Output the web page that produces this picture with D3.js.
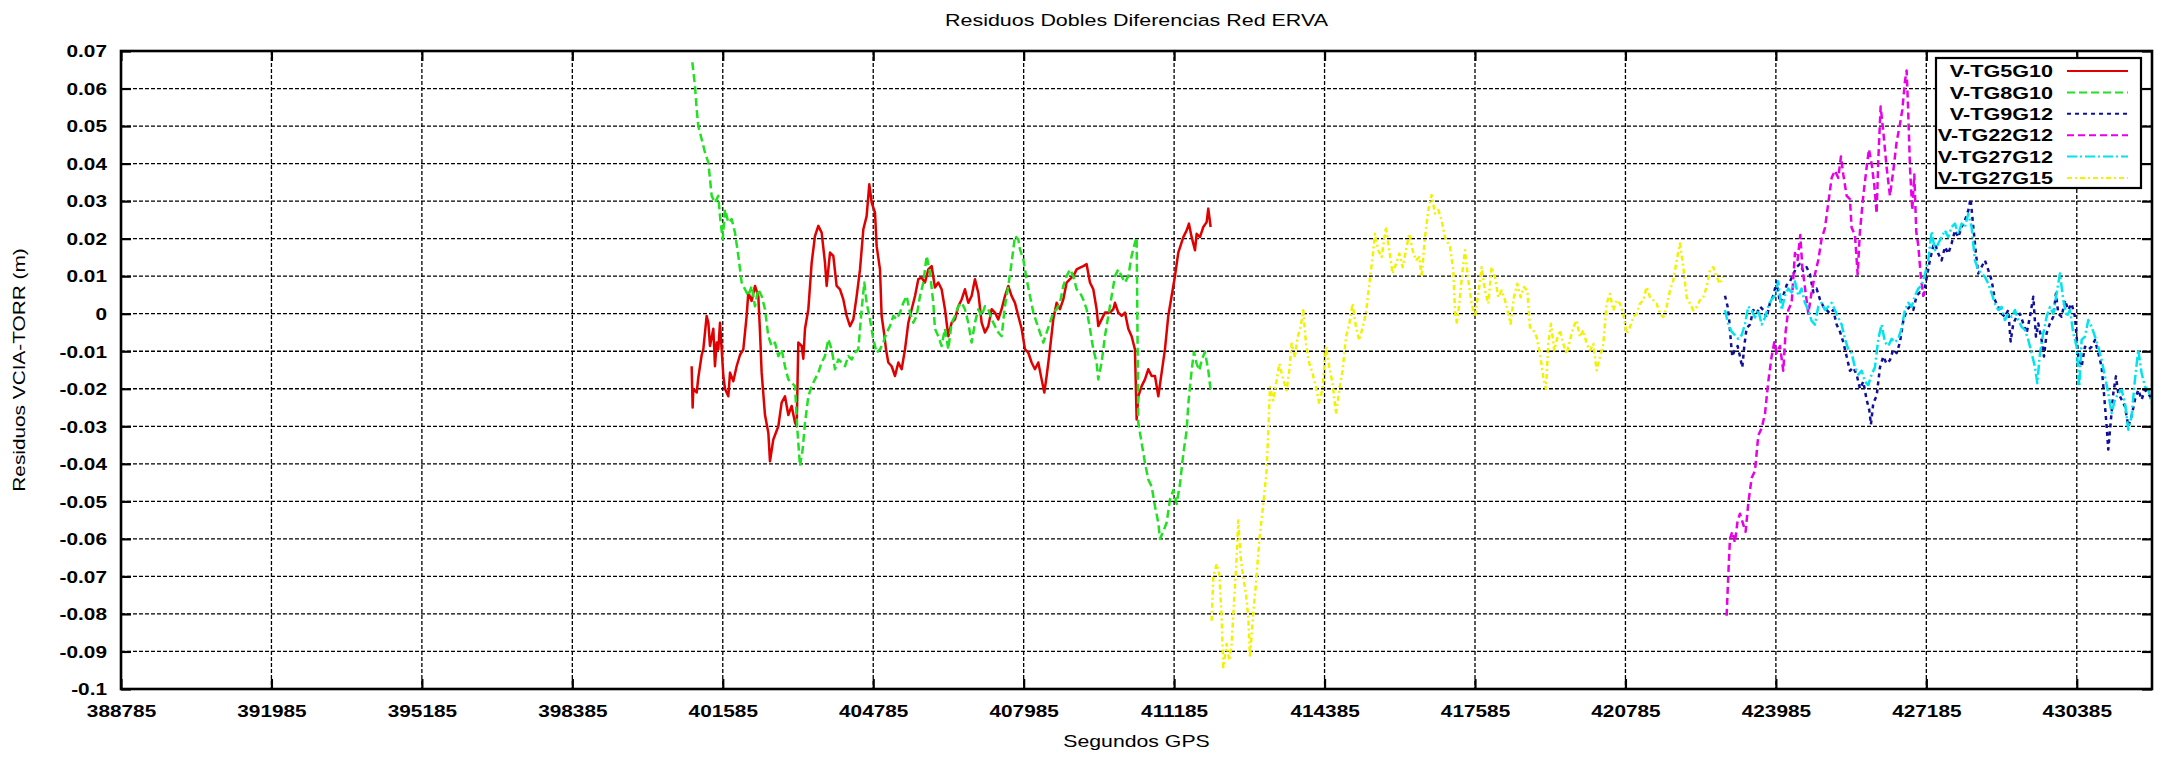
<!DOCTYPE html>
<html>
<head>
<meta charset="utf-8">
<script src="https://cdn.jsdelivr.net/npm/d3@7"></script>
<style>
  body { margin: 0; background: #fff; }
  text { font-family: "Liberation Sans", Arial, sans-serif; fill: #000; }
</style>
</head>
<body>
<div id="chart"></div>
<script>
// Data (GPS seconds, residual in m)
const xTicks = [388785, 391985, 395185, 398385, 401585, 404785, 407985, 411185, 414385, 417585, 420785, 423985, 427185, 430385];
const yTicks = [0.07, 0.06, 0.05, 0.04, 0.03, 0.02, 0.01, 0, -0.01, -0.02, -0.03, -0.04, -0.05, -0.06, -0.07, -0.08, -0.09, -0.1];
const seriesNames = ['V-TG5G10', 'V-TG8G10', 'V-TG9G12', 'V-TG22G12', 'V-TG27G12', 'V-TG27G15'];

const tg5g10 = [
  [400923, -0.014], [400944, -0.025], [400959, -0.020], [401030, -0.021], [401065, -0.017], [401136, -0.011],
  [401171, -0.0095], [401242, -0.0006], [401278, -0.0024], [401313, -0.0086], [401384, -0.004], [401419, -0.014],
  [401455, -0.0077], [401490, -0.0095], [401526, -0.0024], [401561, -0.0095], [401597, -0.0166], [401632, -0.020],
  [401703, -0.022], [401739, -0.0157], [401809, -0.018], [401880, -0.014], [401951, -0.011], [402022, -0.0095],
  [402093, -0.0006], [402128, 0.0056], [402199, 0.0034], [402270, 0.0074], [402341, 0.0047], [402377, -0.005],
  [402412, -0.0157], [402483, -0.027], [402554, -0.0317], [402589, -0.0393], [402660, -0.0335], [402767, -0.030],
  [402837, -0.0237], [402908, -0.022], [402979, -0.027], [403050, -0.0246], [403121, -0.029], [403157, -0.030],
  [403192, -0.0077], [403263, -0.0086], [403298, -0.012], [403334, -0.004], [403405, 0.0012], [403476, 0.0136],
  [403546, 0.0207], [403617, 0.0234], [403688, 0.0216], [403759, 0.0136], [403795, 0.0074], [403866, 0.0163],
  [403936, 0.0154], [404007, 0.0074], [404078, 0.0065], [404149, 0.0038], [404220, -0.0006], [404291, -0.0033],
  [404362, -0.0015], [404433, 0.0047], [404504, 0.0118], [404575, 0.0225], [404645, 0.026], [404702, 0.0345],
  [404752, 0.0296], [404823, 0.0269], [404858, 0.018], [404929, 0.0118], [404964, -0.0006], [405014, -0.005],
  [405057, -0.0095], [405106, -0.013], [405177, -0.014], [405248, -0.0166], [405319, -0.013], [405390, -0.0148],
  [405461, -0.0095], [405532, -0.0024], [405603, 0.0012], [405674, 0.0047], [405744, 0.0092], [405815, 0.0096],
  [405886, 0.0083], [405957, 0.0118], [406028, 0.0127], [406098, 0.007], [406169, 0.0083], [406240, 0.0065],
  [406311, 0.0012], [406382, -0.006], [406453, -0.0024], [406524, -0.0015], [406595, 0.002], [406666, 0.0038],
  [406736, 0.0065], [406807, 0.0029], [406878, 0.0047], [406949, 0.0092], [407020, 0.0056], [407091, -0.0024],
  [407162, -0.005], [407233, -0.0033], [407304, 0.0012], [407375, 0.0003], [407445, -0.0015], [407516, 0.0012],
  [407587, 0.0047], [407658, 0.0074], [407729, 0.0047], [407800, 0.0029], [407871, -0.0006], [407942, -0.004],
  [408013, -0.0095], [408084, -0.0104], [408154, -0.013], [408225, -0.0148], [408296, -0.013], [408367, -0.0175],
  [408424, -0.021], [408474, -0.0166], [408544, -0.0095], [408615, -0.0015], [408686, 0.0029], [408757, 0.0012],
  [408828, 0.0038], [408899, 0.0083], [408970, 0.0092], [409041, 0.010], [409112, 0.0118], [409183, 0.0123],
  [409253, 0.0127], [409324, 0.0132], [409395, 0.0083], [409466, 0.0065], [409537, 0.0012], [409572, -0.0033],
  [409643, -0.0015], [409714, 0.0003], [409821, 0.0003], [409892, 0.0012], [409927, 0.0029], [409998, 0.0003],
  [410069, -0.0006], [410140, 0.0003], [410211, -0.004], [410281, -0.006], [410352, -0.0095], [410388, -0.0282],
  [410423, -0.022], [410494, -0.0193], [410565, -0.0175], [410636, -0.0148], [410707, -0.0166], [410778, -0.0166],
  [410849, -0.022], [410920, -0.0157], [410990, -0.0095], [411061, -0.0006], [411132, 0.0047], [411203, 0.010],
  [411274, 0.0163], [411381, 0.0204], [411452, 0.0222], [411501, 0.024], [411558, 0.0204], [411629, 0.0169],
  [411664, 0.0213], [411735, 0.0204], [411806, 0.0231], [411877, 0.0244], [411912, 0.028], [411962, 0.0231]
];

const tg8g10 = [
  [400937, 0.067], [400994, 0.0607], [401030, 0.0545], [401065, 0.050], [401136, 0.0465], [401207, 0.0429],
  [401278, 0.0403], [401349, 0.0314], [401419, 0.0296], [401490, 0.0314], [401526, 0.026], [401583, 0.0198],
  [401632, 0.0278], [401703, 0.0243], [401774, 0.0252], [401845, 0.0216], [401916, 0.0154], [401987, 0.0083],
  [402058, 0.0065], [402128, 0.0047], [402199, 0.0074], [402270, 0.002], [402341, 0.0065], [402412, 0.0047],
  [402483, 0.0012], [402554, -0.006], [402625, -0.0086], [402696, -0.0077], [402767, -0.0113], [402837, -0.0095],
  [402908, -0.014], [402979, -0.0175], [403050, -0.0184], [403121, -0.0193], [403171, -0.0308], [403227, -0.0406],
  [403284, -0.0362], [403334, -0.0291], [403405, -0.022], [403476, -0.0193], [403546, -0.0175], [403617, -0.0157],
  [403688, -0.013], [403759, -0.0113], [403830, -0.0068], [403901, -0.0095], [403972, -0.0148], [404043, -0.0122],
  [404114, -0.013], [404185, -0.014], [404255, -0.0113], [404326, -0.0122], [404397, -0.0104], [404468, -0.0095],
  [404539, 0.0012], [404596, 0.0083], [404645, 0.0029], [404716, -0.0015], [404787, -0.0068], [404858, -0.0104],
  [404929, -0.0095], [405000, -0.0077], [405071, -0.005], [405142, -0.0033], [405213, -0.0006], [405284, -0.0015],
  [405354, 0.0003], [405425, 0.0029], [405496, 0.0047], [405567, 0.0003], [405638, -0.0024], [405709, -0.0006],
  [405780, 0.0047], [405851, 0.0083], [405922, 0.0154], [405992, 0.0109], [406063, 0.0029], [406098, -0.004],
  [406169, -0.006], [406240, -0.0086], [406311, -0.004], [406382, -0.0095], [406453, -0.0024], [406524, -0.0006],
  [406595, 0.002], [406666, 0.0029], [406736, 0.0012], [406807, -0.0024], [406878, -0.0077], [406949, -0.0024],
  [407020, 0.0012], [407091, -0.0006], [407162, 0.002], [407233, 0.0012], [407304, -0.0015], [407375, -0.0033],
  [407445, -0.005], [407516, -0.006], [407587, 0.002], [407658, 0.0074], [407729, 0.0136], [407800, 0.0207],
  [407871, 0.0198], [407906, 0.0172], [407977, 0.0145], [408048, 0.0092], [408119, 0.0047], [408190, 0.0003],
  [408261, -0.0024], [408332, -0.005], [408403, -0.0077], [408474, -0.005], [408544, -0.0024], [408615, 0.0003],
  [408686, 0.0012], [408757, 0.0029], [408828, 0.0074], [408899, 0.010], [408970, 0.0118], [409041, 0.010],
  [409112, 0.0065], [409183, 0.0056], [409253, 0.0038], [409324, 0.0012], [409395, -0.004], [409466, -0.0095],
  [409537, -0.013], [409572, -0.0175], [409643, -0.013], [409714, -0.006], [409785, -0.0006], [409856, 0.0047],
  [409927, 0.010], [409998, 0.0118], [410069, 0.010], [410140, 0.0083], [410211, 0.010], [410281, 0.0154],
  [410352, 0.0189], [410388, 0.0203], [410423, -0.029], [410494, -0.0344], [410565, -0.0397], [410636, -0.0442],
  [410707, -0.046], [410778, -0.0513], [410849, -0.0557], [410884, -0.060], [410955, -0.058], [411026, -0.0557],
  [411097, -0.0495], [411168, -0.047], [411239, -0.0507], [411310, -0.0453], [411381, -0.0373], [411452, -0.0311],
  [411487, -0.024], [411558, -0.0151], [411607, -0.0102], [411664, -0.0133], [411721, -0.0151], [411771, -0.0124],
  [411841, -0.0102], [411912, -0.0151], [411962, -0.0204]
];

const tg9g12 = [
  [422902, 0.0048], [422958, 0.0019], [422987, -0.001], [423029, -0.0076], [423058, -0.0114], [423114, -0.0095],
  [423171, -0.0086], [423221, -0.0114], [423270, -0.0143], [423313, -0.0086], [423363, -0.0038], [423433, -0.0029],
  [423504, 0.001], [423575, 0.0], [423646, 0.0019], [423717, 0.001], [423788, -0.001], [423859, 0.0029],
  [423930, 0.0048], [424001, 0.0086], [424072, 0.0029], [424142, 0.0048], [424213, 0.0076], [424284, 0.0086],
  [424355, 0.0105], [424426, 0.0124], [424497, 0.0133], [424568, 0.0114], [424639, 0.0124], [424710, 0.0105],
  [424781, 0.0057], [424851, 0.0067], [424922, 0.0038], [424993, 0.0019], [425064, 0.001], [425135, 0.0],
  [425206, 0.001], [425277, -0.0029], [425348, -0.0048], [425419, -0.0076], [425490, -0.0114], [425560, -0.0152],
  [425631, -0.0143], [425702, -0.0162], [425773, -0.020], [425844, -0.0181], [425915, -0.0229], [425972, -0.0257],
  [426007, -0.0295], [426057, -0.0238], [426128, -0.0219], [426199, -0.0143], [426269, -0.0114], [426340, -0.0133],
  [426411, -0.0124], [426482, -0.0095], [426553, -0.0105], [426624, -0.0076], [426695, -0.0019], [426766, 0.001],
  [426837, 0.0019], [426908, 0.001], [426978, 0.0048], [427049, 0.0057], [427120, 0.0048], [427191, 0.0095],
  [427262, 0.0143], [427333, 0.0181], [427368, 0.0187], [427439, 0.016], [427510, 0.0142], [427581, 0.0178],
  [427652, 0.016], [427723, 0.0187], [427794, 0.0222], [427865, 0.0204], [427936, 0.0231], [428006, 0.0249],
  [428077, 0.0275], [428127, 0.0306], [428184, 0.0231], [428240, 0.016], [428290, 0.0107], [428361, 0.0125],
  [428432, 0.0142], [428503, 0.0116], [428574, 0.0089], [428645, 0.0036], [428715, 0.0018], [428786, 0.0],
  [428857, -0.0008], [428928, 0.001], [428978, -0.0074], [429035, -0.0026], [429105, -0.0008], [429176, 0.0],
  [429247, -0.0026], [429318, -0.0052], [429389, -0.0008], [429460, 0.0045], [429517, -0.0061], [429566, -0.0026],
  [429637, -0.007], [429687, -0.0114], [429744, -0.0052], [429814, -0.0026], [429885, -0.0008], [429942, 0.0054],
  [429992, 0.0], [430063, -0.0008], [430133, 0.0036], [430204, 0.001], [430275, 0.0027], [430346, -0.0008],
  [430417, -0.0114], [430488, -0.0141], [430559, -0.0088], [430630, -0.0096], [430701, -0.0088], [430772, -0.007],
  [430842, -0.0105], [430913, -0.0141], [430963, -0.0212], [431020, -0.030], [431055, -0.0362], [431105, -0.0291],
  [431162, -0.0212], [431218, -0.0167], [431268, -0.0212], [431339, -0.0229], [431410, -0.0247], [431481, -0.030],
  [431551, -0.0273], [431622, -0.0229], [431693, -0.0203], [431764, -0.0229], [431835, -0.0203], [431906, -0.0212],
  [431977, -0.0229]
];

const tg22g12 = [
  [422937, -0.0805], [422973, -0.0695], [423008, -0.060], [423058, -0.0581], [423114, -0.061], [423171, -0.0552],
  [423221, -0.0533], [423292, -0.0562], [423341, -0.0581], [423398, -0.0505], [423469, -0.0438], [423540, -0.0419],
  [423611, -0.0324], [423682, -0.0305], [423753, -0.0267], [423823, -0.0181], [423894, -0.0114], [423951, -0.0076],
  [424001, -0.0105], [424072, -0.0086], [424142, -0.0152], [424192, -0.0048], [424249, 0.001], [424320, 0.0029],
  [424391, 0.0162], [424447, 0.0143], [424504, 0.021], [424547, 0.0124], [424617, 0.0057], [424674, 0.0],
  [424745, 0.0057], [424816, 0.0105], [424887, 0.0143], [424958, 0.020], [425029, 0.0229], [425100, 0.0295],
  [425171, 0.0362], [425241, 0.0381], [425312, 0.0362], [425369, 0.0419], [425419, 0.0371], [425490, 0.0314],
  [425560, 0.0305], [425596, 0.0229], [425667, 0.021], [425724, 0.0105], [425773, 0.0219], [425844, 0.0314],
  [425915, 0.039], [425965, 0.0438], [426021, 0.040], [426078, 0.0343], [426128, 0.0267], [426163, 0.041],
  [426213, 0.0552], [426269, 0.0486], [426340, 0.039], [426411, 0.0314], [426482, 0.0381], [426553, 0.0457],
  [426624, 0.0505], [426674, 0.0543], [426730, 0.0619], [426766, 0.0648], [426801, 0.0533], [426837, 0.039],
  [426886, 0.0276], [426929, 0.0371], [426971, 0.0219], [427014, 0.0181], [427071, 0.0095], [427120, 0.0048],
  [427170, 0.0067]
];

const tg27g12 = [
  [422902, 0.001], [422973, -0.0029], [423044, -0.0048], [423114, -0.0057], [423185, -0.0067], [423256, -0.0057],
  [423327, -0.0029], [423398, 0.0019], [423469, 0.001], [423540, -0.001], [423611, 0.001], [423682, -0.0029],
  [423753, -0.001], [423823, 0.0019], [423894, 0.0038], [423965, 0.0048], [424036, 0.0086], [424107, 0.001],
  [424178, 0.0048], [424249, 0.0067], [424320, 0.0057], [424391, 0.0086], [424462, 0.0048], [424532, 0.0067],
  [424603, 0.0029], [424674, 0.001], [424745, -0.0019], [424816, -0.0029], [424887, 0.0019], [424958, 0.0029],
  [425029, 0.001], [425100, 0.0019], [425171, 0.0029], [425241, 0.001], [425312, -0.001], [425383, -0.0029],
  [425454, -0.0067], [425525, -0.0095], [425596, -0.0105], [425667, -0.0143], [425738, -0.0162], [425809, -0.0152],
  [425880, -0.0181], [425951, -0.019], [426021, -0.0162], [426092, -0.0143], [426163, -0.0067], [426234, -0.0029],
  [426305, -0.0076], [426376, -0.0086], [426447, -0.0067], [426518, -0.0076], [426589, -0.0067], [426659, -0.0038],
  [426730, 0.001], [426801, 0.0029], [426872, 0.0019], [426943, 0.0048], [427014, 0.0067], [427085, 0.0076],
  [427156, 0.0105], [427227, 0.0143], [427298, 0.0219], [427368, 0.0169], [427439, 0.0187], [427510, 0.0204],
  [427581, 0.0222], [427652, 0.0204], [427723, 0.0231], [427794, 0.024], [427865, 0.0213], [427936, 0.024],
  [428006, 0.0231], [428077, 0.0266], [428148, 0.0231], [428219, 0.0142], [428290, 0.0116], [428361, 0.0107],
  [428432, 0.0098], [428503, 0.008], [428574, 0.0054], [428645, 0.0027], [428715, 0.001], [428786, 0.0018],
  [428857, -0.0017], [428928, 0.0], [428999, -0.0008], [429070, 0.001], [429141, -0.0017], [429212, -0.0035],
  [429283, -0.0043], [429354, -0.007], [429424, -0.0105], [429495, -0.0141], [429545, -0.0185], [429602, -0.0105],
  [429673, -0.0052], [429744, -0.0008], [429814, 0.0018], [429885, 0.0], [429956, 0.0054], [430027, 0.0107],
  [430098, 0.0036], [430169, -0.0008], [430240, 0.001], [430311, -0.0052], [430382, -0.0088], [430438, -0.0194],
  [430488, -0.007], [430559, -0.0061], [430630, -0.0017], [430701, -0.0035], [430772, -0.0061], [430842, -0.0088],
  [430913, -0.0123], [430984, -0.0167], [431055, -0.0212], [431126, -0.0265], [431197, -0.0229], [431268, -0.0212],
  [431339, -0.0203], [431410, -0.0238], [431481, -0.0309], [431551, -0.0273], [431622, -0.0176], [431693, -0.0096],
  [431764, -0.0158], [431835, -0.0194], [431906, -0.0203], [431977, -0.0238]
];

const tg27g15 = [
  [411983, -0.0818], [412019, -0.0702], [412090, -0.0667], [412146, -0.0693], [412196, -0.0809], [412231, -0.0942],
  [412302, -0.088], [412359, -0.0924], [412409, -0.088], [412458, -0.0773], [412501, -0.0684], [412550, -0.0551],
  [412600, -0.0649], [412657, -0.0702], [412714, -0.0747], [412763, -0.0809], [412799, -0.0916], [412855, -0.0818],
  [412926, -0.072], [412997, -0.0604], [413082, -0.0507], [413153, -0.0418], [413189, -0.0311], [413224, -0.0196],
  [413295, -0.0231], [413366, -0.0178], [413423, -0.0133], [413493, -0.0169], [413579, -0.0204], [413635, -0.0151],
  [413685, -0.008], [413756, -0.0116], [413812, -0.0062], [413876, -0.0036], [413933, 0.0009], [413990, -0.008],
  [414061, -0.0133], [414132, -0.016], [414202, -0.0196], [414273, -0.024], [414344, -0.0196], [414415, -0.0089],
  [414486, -0.0142], [414557, -0.0187], [414628, -0.0267], [414699, -0.0204], [414770, -0.0151], [414841, -0.0062],
  [414911, -0.0027], [414982, 0.0027], [415053, -0.0036], [415124, -0.0071], [415195, -0.0036], [415266, 0.0],
  [415337, 0.008], [415408, 0.0151], [415457, 0.0213], [415528, 0.0169], [415599, 0.0151], [415691, 0.0231],
  [415762, 0.0169], [415833, 0.0107], [415904, 0.0133], [415975, 0.016], [416046, 0.0124], [416117, 0.0169],
  [416188, 0.0213], [416259, 0.0169], [416329, 0.0142], [416400, 0.0151], [416450, 0.0098], [416521, 0.0204],
  [416592, 0.0276], [416663, 0.0316], [416734, 0.0267], [416804, 0.0276], [416875, 0.0249], [416946, 0.0204],
  [417053, 0.0178], [417124, 0.0116], [417159, 0.0009], [417195, -0.0027], [417251, 0.0027], [417322, 0.0116],
  [417372, 0.0169], [417443, 0.0089], [417514, 0.0027], [417584, -0.0009], [417655, 0.0053], [417726, 0.0124],
  [417797, 0.0062], [417868, 0.0027], [417939, 0.0124], [418010, 0.0098], [418081, 0.0044], [418152, 0.0062],
  [418223, 0.0036], [418293, 0.0], [418343, -0.0027], [418414, 0.0044], [418485, 0.008], [418556, 0.0044],
  [418627, 0.0071], [418698, 0.0062], [418754, -0.0036], [418825, -0.0044], [418896, -0.0062], [418967, -0.0107],
  [419038, -0.0169], [419095, -0.020], [419144, -0.008], [419201, -0.0027], [419272, -0.0098], [419322, -0.0071],
  [419392, -0.0044], [419463, -0.008], [419534, -0.0107], [419605, -0.0071], [419676, -0.0036], [419747, -0.0018],
  [419818, -0.0062], [419889, -0.0044], [419960, -0.008], [420031, -0.0098], [420101, -0.008], [420172, -0.0151],
  [420243, -0.0116], [420314, -0.008], [420385, 0.0027], [420456, 0.0053], [420527, 0.0009], [420598, 0.0036],
  [420669, 0.0027], [420740, 0.0], [420810, -0.0053], [420881, -0.0036], [420952, -0.0009], [421023, 0.0],
  [421094, 0.0027], [421165, 0.0036], [421236, 0.0071], [421307, 0.0044], [421378, 0.0036], [421449, 0.0027],
  [421519, 0.0], [421590, -0.0009], [421661, 0.0018], [421732, 0.0062], [421803, 0.0089], [421888, 0.0151],
  [421945, 0.0187], [422016, 0.0124], [422087, 0.0044], [422158, 0.0027], [422228, 0.0009], [422299, 0.0018],
  [422370, 0.0036], [422441, 0.0044], [422512, 0.0071], [422583, 0.0116], [422654, 0.0124], [422725, 0.0098],
  [422796, 0.008], [422867, 0.0098]
];

const seriesData = [tg5g10, tg8g10, tg9g12, tg22g12, tg27g12, tg27g15];
const seriesColors = ['#e00000', '#22e022', '#10109a', '#e800e8', '#00e4ee', '#f2f200'];
const seriesDash = [null, '8,4', '4,4', '7,4', '10,3,2,3', '5,3,2,3'];

const chart_width = 2159;
const chart_height = 759;
const margin = {left: 121, right: 7, top: 51, bottom: 70};
const plot_right = chart_width - margin.right;
const plot_bottom = chart_height - margin.bottom;
const stretch = 1.3; // text in the original is stretched sideways

// Scales
const x_scale = d3.scaleLinear()
    .domain([388785, 431985])
    .range([margin.left, plot_right]);

const y_scale = d3.scaleLinear()
    .domain([-0.1, 0.07])
    .range([plot_bottom, margin.top]);

// Create SVG
const svg = d3.select('#chart')
    .append('svg')
    .attr('width', chart_width)
    .attr('height', chart_height);

// Grid
const grid = svg.append('g')
    .attr('stroke', '#000')
    .attr('stroke-width', 1.3)
    .attr('stroke-dasharray', '4,2');

grid.selectAll('.gx')
    .data(xTicks)
    .enter()
    .append('line')
    .attr('x1', d => x_scale(d))
    .attr('x2', d => x_scale(d))
    .attr('y1', margin.top)
    .attr('y2', plot_bottom);

grid.selectAll('.gy')
    .data(yTicks)
    .enter()
    .append('line')
    .attr('x1', margin.left)
    .attr('x2', plot_right)
    .attr('y1', d => y_scale(d))
    .attr('y2', d => y_scale(d));

// Lines
const line = d3.line()
    .x(d => x_scale(d[0]))
    .y(d => y_scale(d[1]));

seriesData.forEach((s, i) => {
    svg.append('path')
        .datum(s)
        .attr('fill', 'none')
        .attr('stroke', seriesColors[i])
        .attr('stroke-width', 2.5)
        .attr('stroke-dasharray', seriesDash[i])
        .attr('stroke-linejoin', 'round')
        .attr('d', line);
});

// Axes (ticks point inwards, mirrored)
const fmt = d => String(d);

const x_axis = svg.append('g')
    .attr('transform', `translate(0, ${plot_bottom})`)
    .call(d3.axisBottom(x_scale).tickValues(xTicks).tickSize(-10).tickFormat(fmt));
x_axis.selectAll('text')
    .attr('y', 28)
    .attr('dy', null)
    .attr('transform', `scale(${stretch},1)`);

svg.append('g')
    .attr('transform', `translate(0, ${margin.top})`)
    .call(d3.axisTop(x_scale).tickValues(xTicks).tickSize(-10).tickFormat(''));

const y_axis = svg.append('g')
    .attr('transform', `translate(${margin.left}, 0)`)
    .call(d3.axisLeft(y_scale).tickValues(yTicks).tickSize(-10).tickFormat(fmt));
y_axis.selectAll('text')
    .attr('x', -14 / stretch)
    .attr('dy', '0.36em')
    .attr('transform', `scale(${stretch},1)`);

svg.append('g')
    .attr('transform', `translate(${plot_right}, 0)`)
    .call(d3.axisRight(y_scale).tickValues(yTicks).tickSize(-10).tickFormat(''));

svg.selectAll('.domain').remove();
svg.selectAll('.tick line').attr('stroke', '#000').attr('stroke-width', 2.2);
svg.selectAll('.tick text')
    .attr('font-family', '"Liberation Sans", Arial, sans-serif')
    .attr('font-size', 16)
    .attr('font-weight', 'bold')
    .attr('fill', '#000');

// Border
svg.append('rect')
    .attr('x', margin.left)
    .attr('y', margin.top)
    .attr('width', plot_right - margin.left)
    .attr('height', plot_bottom - margin.top)
    .attr('fill', 'none')
    .attr('stroke', '#000')
    .attr('stroke-width', 2.6);

// Titles
svg.append('text')
    .attr('transform', `translate(${(margin.left + plot_right) / 2}, 26) scale(${stretch},1)`)
    .attr('text-anchor', 'middle')
    .attr('font-size', 16.5)
    .text('Residuos Dobles Diferencias Red ERVA');

svg.append('text')
    .attr('transform', `translate(${(margin.left + plot_right) / 2}, 747) scale(1.25,1)`)
    .attr('text-anchor', 'middle')
    .attr('font-size', 17)
    .text('Segundos GPS');

svg.append('text')
    .attr('transform', `translate(25, ${(margin.top + plot_bottom) / 2}) rotate(-90) scale(1.3,1)`)
    .attr('text-anchor', 'middle')
    .attr('font-size', 16)
    .text('Residuos VCIA-TORR (m)');

// Legend
const legend = svg.append('g');
legend.append('rect')
    .attr('x', 1936)
    .attr('y', 58)
    .attr('width', 205)
    .attr('height', 130)
    .attr('fill', '#fff')
    .attr('stroke', '#000')
    .attr('stroke-width', 2.2);

const rows = legend.selectAll('.row')
    .data(seriesNames)
    .enter()
    .append('g')
    .attr('transform', (d, i) => `translate(0, ${71 + i * 21.4})`);

rows.append('text')
    .attr('transform', 'translate(2053, 0) scale(1.27,1)')
    .attr('text-anchor', 'end')
    .attr('dy', '0.36em')
    .attr('font-size', 17)
    .attr('font-weight', 'bold')
    .text(d => d);

rows.append('line')
    .attr('x1', 2067)
    .attr('x2', 2128)
    .attr('stroke', (d, i) => seriesColors[i])
    .attr('stroke-width', 2)
    .attr('stroke-dasharray', (d, i) => seriesDash[i]);
</script>
</body>
</html>
